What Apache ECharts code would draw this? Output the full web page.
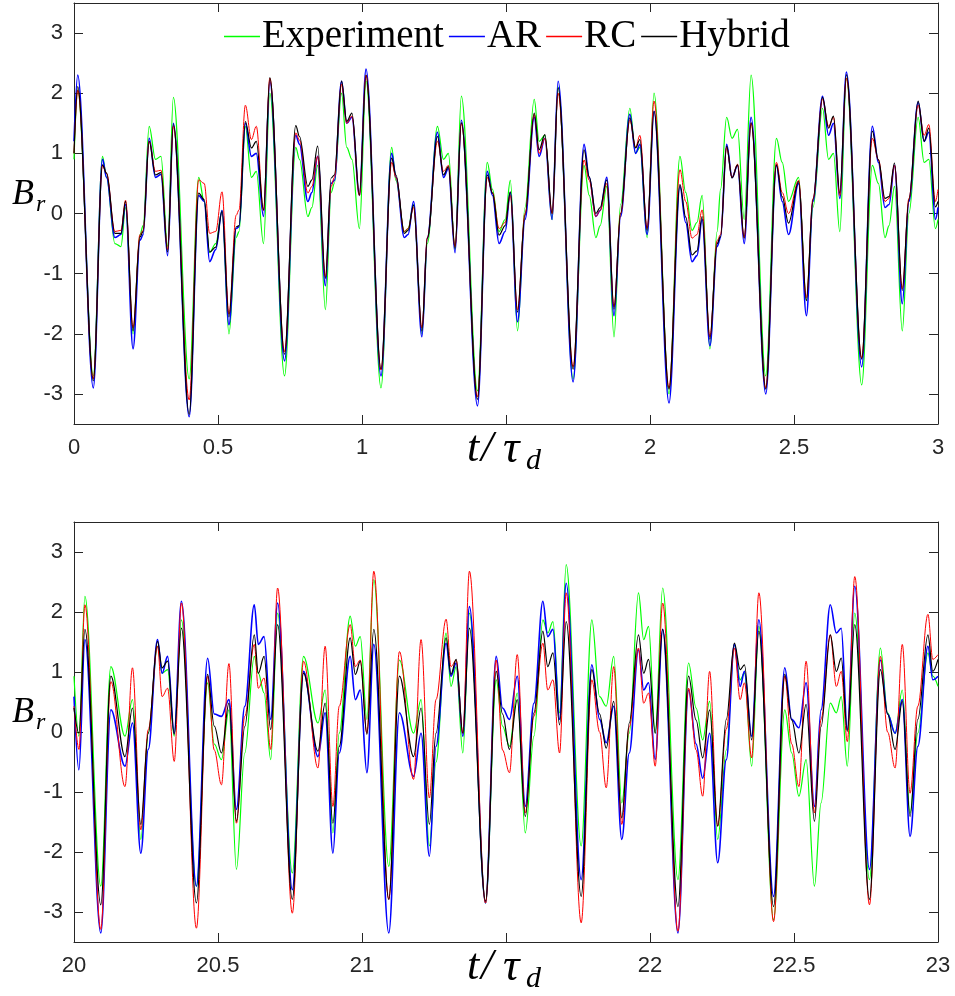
<!DOCTYPE html>
<html>
<head>
<meta charset="utf-8">
<title>Br time series</title>
<script src="https://cdn.jsdelivr.net/npm/echarts@6/dist/echarts.min.js"></script>
<style>
  html, body { margin: 0; padding: 0; background: #ffffff; }
  #chart { width: 955px; height: 996px; }
</style>
</head>
<body>
<div id="chart"></div>
<script>
// ---- Window 1: t/tau_d in [0, 3] ----
const topTime = [0.000, 0.013, 0.067, 0.099, 0.113, 0.142, 0.163, 0.179, 0.205, 0.229,
  0.240, 0.261, 0.283, 0.302, 0.325, 0.345, 0.400, 0.433, 0.452, 0.471,
  0.492, 0.514, 0.538, 0.563, 0.573, 0.595, 0.616, 0.633, 0.658, 0.680,
  0.731, 0.770, 0.783, 0.812, 0.826, 0.846, 0.873, 0.893, 0.904, 0.929,
  0.947, 0.965, 0.991, 1.014, 1.066, 1.103, 1.118, 1.147, 1.160, 1.179,
  1.208, 1.227, 1.262, 1.283, 1.300, 1.323, 1.345, 1.401, 1.435, 1.453,
  1.476, 1.497, 1.515, 1.540, 1.566, 1.598, 1.615, 1.635, 1.660, 1.681,
  1.733, 1.771, 1.789, 1.812, 1.827, 1.850, 1.875, 1.898, 1.930, 1.950,
  1.965, 1.990, 2.014, 2.066, 2.104, 2.124, 2.146, 2.163, 2.181, 2.208,
  2.233, 2.245, 2.266, 2.285, 2.304, 2.327, 2.351, 2.402, 2.439, 2.459,
  2.481, 2.516, 2.543, 2.566, 2.599, 2.620, 2.637, 2.659, 2.682, 2.735,
  2.772, 2.793, 2.816, 2.830, 2.849, 2.876, 2.899, 2.931, 2.952, 2.968,
  2.991, 3.000];
const topHybrid = [1.00, 2.11, -2.78, 0.81, 0.67, -0.33, -0.33, 0.20, -1.95, -0.39,
  -0.30, 1.20, 0.64, 0.68, -0.64, 1.48, -3.34, 0.34, 0.23, -0.64,
  -0.56, 0.03, -1.72, -0.22, -0.20, 1.53, 1.09, 1.20, 0.06, 2.26,
  -2.34, 1.46, 1.28, 0.45, 0.56, 1.12, -1.08, 0.59, 0.64, 2.20,
  1.53, 1.67, 0.31, 2.30, -2.59, 0.92, 0.64, -0.33, -0.28, 0.14,
  -1.95, -0.41, 1.28, 0.64, 0.78, -0.58, 1.51, -3.09, 0.64, 0.34,
  -0.36, -0.20, 0.36, -1.64, -0.03, 1.67, 1.06, 1.31, 0.00, 2.09,
  -2.59, 1.06, 0.61, 0.00, 0.10, 0.56, -1.59, 0.00, 1.59, 1.09,
  1.23, -0.28, 1.70, -2.92, 0.48, -0.06, -0.69, -0.62, -0.05, -2.09,
  -0.50, -0.38, 1.12, 0.59, 0.81, -0.41, 1.51, -2.92, 0.81, 0.28,
  -0.16, 0.53, -1.45, 0.23, 1.93, 1.42, 1.62, 0.34, 2.31, -2.42,
  1.37, 0.89, 0.25, 0.28, 0.84, -1.28, 0.23, 1.87, 1.20, 1.42,
  0.11, 0.20];
const topAR = [1.20, 2.30, -2.90, 0.90, 0.60, -0.40, -0.35, 0.15, -2.25, -0.45,
  -0.35, 1.25, 0.60, 0.65, -0.70, 1.50, -3.38, 0.30, 0.20, -0.80,
  -0.60, 0.05, -1.85, -0.25, -0.22, 1.50, 0.95, 1.00, -0.05, 2.20,
  -2.45, 1.30, 1.15, 0.20, 0.35, 0.95, -1.20, 0.50, 0.55, 2.20,
  1.50, 1.60, 0.30, 2.40, -2.70, 1.00, 0.60, -0.40, -0.35, 0.20,
  -2.05, -0.40, 1.35, 0.60, 0.75, -0.65, 1.55, -3.20, 0.70, 0.30,
  -0.50, -0.30, 0.35, -1.80, -0.10, 1.60, 0.95, 1.25, -0.10, 2.20,
  -2.80, 1.15, 0.60, -0.05, 0.05, 0.60, -1.70, -0.05, 1.65, 1.00,
  1.15, -0.35, 1.70, -3.15, 0.45, -0.15, -0.80, -0.70, -0.10, -2.20,
  -0.55, -0.40, 1.15, 0.60, 0.80, -0.50, 1.60, -3.00, 0.80, 0.20,
  -0.35, 0.50, -1.70, 0.20, 1.95, 1.30, 1.50, 0.25, 2.35, -2.55,
  1.45, 0.85, 0.10, 0.15, 0.80, -1.50, 0.20, 1.85, 1.20, 1.35,
  -0.10, 0.10];
const topRC = [1.00, 2.05, -2.75, 0.80, 0.67, -0.30, -0.28, 0.22, -1.90, -0.35,
  -0.28, 1.20, 0.70, 0.72, -0.60, 1.45, -3.10, 0.56, 0.50, -0.33,
  -0.30, 0.36, -1.67, -0.03, 0.06, 1.80, 1.23, 1.45, 0.05, 2.25,
  -2.30, 1.34, 1.22, 0.34, 0.45, 0.95, -1.05, 0.45, 0.60, 2.15,
  1.50, 1.62, 0.30, 2.30, -2.60, 0.85, 0.60, -0.30, -0.25, 0.10,
  -1.90, -0.40, 1.20, 0.70, 0.80, -0.55, 1.50, -3.05, 0.60, 0.35,
  -0.25, -0.15, 0.30, -1.60, 0.00, 1.65, 1.00, 1.25, 0.00, 2.00,
  -2.55, 0.89, 0.55, -0.05, 0.05, 0.50, -1.55, 0.00, 1.55, 1.10,
  1.30, -0.25, 1.87, -2.90, 0.73, 0.20, -0.41, -0.35, 0.06, -2.05,
  -0.45, -0.35, 1.10, 0.60, 0.82, -0.40, 1.50, -2.90, 0.85, 0.35,
  0.00, 0.55, -1.40, 0.25, 1.90, 1.45, 1.60, 0.30, 2.25, -2.40,
  1.25, 0.90, 0.20, 0.25, 0.80, -1.25, 0.25, 1.80, 1.30, 1.48,
  0.20, 0.40];
const topExperiment = [0.90, 2.05, -2.70, 0.95, 0.60, -0.50, -0.55, 0.10, -2.00, -0.35,
  -0.20, 1.45, 0.90, 0.95, -0.55, 1.93, -2.75, 0.60, 0.20, -0.65,
  -0.50, 0.05, -2.00, -0.40, -0.30, 1.45, 0.60, 0.70, -0.50, 2.00,
  -2.70, 1.10, 0.90, -0.05, 0.10, 0.80, -1.60, 0.35, 0.50, 2.00,
  1.10, 0.90, -0.25, 2.20, -2.90, 1.10, 0.55, -0.30, -0.25, 0.15,
  -2.00, -0.50, 1.45, 0.90, 1.00, -0.60, 1.95, -2.95, 0.85, 0.40,
  -0.30, -0.10, 0.55, -1.95, 0.10, 1.90, 1.20, 1.30, -0.10, 2.10,
  -2.75, 0.80, 0.30, -0.40, -0.20, 0.45, -2.05, 0.15, 1.75, 1.00,
  1.10, -0.40, 2.00, -3.00, 0.95, 0.35, -0.28, -0.15, 0.30, -2.25,
  -0.30, 0.40, 1.60, 1.25, 1.40, -0.10, 2.30, -2.70, 1.25, 0.85,
  0.20, 0.60, -1.45, 0.10, 1.75, 0.90, 1.00, -0.30, 2.25, -2.85,
  0.80, 0.50, -0.40, -0.20, 0.45, -1.95, 0.00, 1.60, 0.85, 0.90,
  -0.25, -0.10];

// ---- Window 2: t/tau_d in [20, 23] ----
const bottomTime = [20.000, 20.017, 20.038, 20.093, 20.128, 20.177, 20.203, 20.232, 20.258, 20.290,
  20.306, 20.325, 20.348, 20.373, 20.425, 20.464, 20.487, 20.512, 20.538, 20.564,
  20.593, 20.626, 20.640, 20.660, 20.683, 20.707, 20.758, 20.797, 20.847, 20.872,
  20.899, 20.921, 20.959, 20.977, 20.994, 21.017, 21.041, 21.093, 21.130, 21.179,
  21.205, 21.234, 21.257, 21.292, 21.309, 21.327, 21.350, 21.373, 21.429, 21.466,
  21.488, 21.512, 21.539, 21.567, 21.597, 21.628, 21.645, 21.663, 21.686, 21.709,
  21.761, 21.798, 21.825, 21.848, 21.874, 21.902, 21.928, 21.960, 21.978, 21.995,
  22.018, 22.044, 22.097, 22.134, 22.160, 22.183, 22.207, 22.235, 22.265, 22.293,
  22.313, 22.328, 22.353, 22.378, 22.429, 22.468, 22.492, 22.517, 22.542, 22.571,
  22.594, 22.626, 22.647, 22.664, 22.685, 22.711, 22.762, 22.800, 22.825, 22.851,
  22.876, 22.903, 22.930, 22.965, 22.982, 23.000];
const bottomHybrid = [0.40, -0.02, 1.71, -2.88, 0.93, -0.41, 0.40, -1.54, -0.02, 1.51,
  1.07, 1.18, -0.04, 1.73, -2.85, 0.96, 0.10, -0.35, 0.48, -1.49,
  0.09, 1.62, 0.98, 1.26, 0.04, 1.79, -2.79, 0.98, -0.32, 0.48,
  -1.52, -0.24, 1.57, 0.96, 1.18, -0.04, 1.71, -2.79, 0.93, -0.41,
  0.40, -1.54, -0.02, 1.57, 0.96, 1.21, -0.02, 1.73, -2.82, 1.01,
  0.30, -0.29, 0.54, -1.41, 0.32, 1.68, 1.09, 1.32, 0.12, 1.84,
  -2.74, 1.04, 0.30, -0.27, 0.51, -1.43, 0.15, 1.62, 0.98, 1.21,
  -0.02, 1.71, -2.91, 0.93, 0.20, -0.43, 0.37, -1.57, 0.21, 1.48,
  1.04, 1.12, -0.13, 1.68, -2.91, 0.96, 0.20, -0.35, 0.46, -1.49,
  0.09, 1.62, 1.01, 1.23, 0.01, 1.79, -2.79, 1.04, 0.30, -0.29,
  0.51, -1.41, 0.21, 1.62, 1.01, 1.21];
const bottomAR = [0.59, -0.63, 1.54, -3.35, 0.37, -0.57, 0.15, -2.02, -0.29, 1.54,
  0.98, 1.26, -0.02, 2.18, -2.57, 1.23, 0.30, 0.26, 0.54, -1.29,
  0.43, 2.12, 1.46, 1.59, 0.21, 2.15, -2.63, 1.01, -0.41, 0.32,
  -2.02, -0.35, 1.26, 0.54, 0.70, -0.68, 1.46, -3.35, 0.32, -0.74,
  -0.02, -2.07, -0.24, 1.48, 0.93, 1.15, -0.07, 2.09, -2.85, 1.26,
  0.40, 0.21, 0.93, -1.24, 0.48, 2.18, 1.59, 1.71, 0.21, 2.48,
  -2.46, 1.12, 0.21, -0.18, 0.43, -1.79, -0.35, 1.37, 0.70, 0.82,
  -0.46, 1.71, -3.35, 0.70, -0.20, -0.77, -0.02, -2.18, -0.46, 1.46,
  0.76, 1.01, -0.07, 1.87, -2.74, 1.07, 0.21, 0.07, 0.82, -1.24,
  0.37, 2.12, 1.65, 1.73, 0.04, 2.43, -2.29, 1.20, 0.30, -0.02,
  0.54, -1.74, -0.24, 1.43, 0.87, 0.93];
const bottomRC = [0.43, -0.29, 2.12, -3.29, 0.84, -0.91, 1.07, -1.63, 0.04, 1.43,
  0.59, 0.73, -0.49, 2.15, -3.27, 0.93, -0.30, -0.88, 1.14, -1.52,
  0.26, 1.46, 0.73, 0.90, -0.29, 2.40, -3.02, 1.18, -0.60, 1.43,
  -1.24, 0.43, 1.79, 1.09, 1.20, -0.02, 2.68, -2.79, 1.34, -0.79,
  1.54, -1.10, 0.54, 1.88, 1.09, 1.20, -0.02, 2.68, -2.85, 1.20,
  -0.30, -0.68, 1.29, -1.35, 0.26, 1.48, 0.70, 0.87, -0.35, 2.32,
  -3.18, 0.87, 0.00, -0.93, 1.09, -1.54, 0.09, 1.40, 0.48, 0.65,
  -0.57, 2.15, -3.32, 0.73, -0.30, -1.07, 1.01, -1.57, 0.05, 1.40,
  0.54, 0.82, -0.43, 2.32, -3.16, 0.93, -0.20, -0.91, 1.18, -1.35,
  0.21, 1.62, 0.76, 1.01, -0.16, 2.59, -2.88, 1.26, 0.00, -0.60,
  1.46, -1.02, 0.43, 1.96, 1.21, 1.29];
const bottomExperiment = [0.93, -0.07, 2.26, -2.57, 1.09, -0.07, 0.54, -1.79, -0.02, 1.43,
  0.98, 1.04, -0.07, 1.87, -2.57, 0.82, -0.20, -0.46, 0.37, -2.29,
  -0.35, 1.26, 0.98, 0.65, -0.46, 1.98, -2.35, 1.26, 0.15, 0.70,
  -1.68, -0.02, 1.93, 1.43, 1.59, 0.21, 2.54, -2.24, 1.20, -0.02,
  0.54, -1.90, -0.50, 1.65, 0.76, 1.09, -0.35, 1.98, -2.85, 0.87,
  0.10, -0.24, 0.65, -1.68, -0.07, 1.87, 1.65, 1.84, 0.32, 2.79,
  -1.90, 1.87, 0.59, 0.43, 1.26, -1.18, -0.02, 2.32, 1.54, 1.76,
  -0.02, 2.40, -2.46, 1.15, 0.40, -0.13, 0.51, -1.79, -0.30, 1.46,
  0.87, 0.98, -0.57, 1.76, -3.13, 0.37, -0.35, -1.07, -0.46, -2.57,
  -1.18, 0.48, 0.32, 0.59, -0.57, 1.98, -2.46, 1.40, 0.32, -0.02,
  0.70, -1.35, -0.02, 1.32, 0.93, 0.76];

const seriesNames = ['Experiment', 'AR', 'RC', 'Hybrid'];
const seriesColors = ['#00ff00', '#0000ff', '#ff0000', '#000000'];
const seriesWidths = [1.2, 1.6, 1, 1.2];
const yTicks = [-3, -2, -1, 0, 1, 2, 3];
// the x-axis title sits where the middle tick label would be
const topXLabels = [0, 0.5, 1, 2, 2.5, 3];
const bottomXLabels = [20, 20.5, 21, 22, 22.5, 23];

const axisColor = '#262626';
const tickFont = 'Liberation Sans, Arial, Helvetica, sans-serif';
const mathFont = 'Liberation Serif, Times New Roman, serif';

function pairs(time, values) {
  return time.map((t, i) => [t, values[i]]);
}

function xAxes(gridIndex, min, max, labels) {
  const base = {
    gridIndex, type: 'value', min, max, interval: 0.5,
    axisLine: { show: true, onZero: false, lineStyle: { color: axisColor, width: 1 } },
    axisTick: { show: true, inside: true, length: 9, lineStyle: { color: axisColor } },
    splitLine: { show: false }
  };
  return [
    Object.assign({}, base, {
      position: 'bottom',
      axisLabel: { show: true, customValues: labels, fontSize: 22, color: axisColor, fontFamily: tickFont, margin: 13 }
    }),
    Object.assign({}, base, { position: 'top', axisLabel: { show: false } })
  ];
}

function yAxes(gridIndex) {
  const base = {
    gridIndex, type: 'value', min: -3.5, max: 3.5,
    axisLine: { show: true, onZero: false, lineStyle: { color: axisColor, width: 1 } },
    axisTick: { show: true, inside: true, length: 9, customValues: yTicks, lineStyle: { color: axisColor } },
    splitLine: { show: false }
  };
  return [
    Object.assign({}, base, {
      position: 'left',
      axisLabel: { show: true, customValues: yTicks, fontSize: 22, color: axisColor, fontFamily: tickFont, margin: 11 }
    }),
    Object.assign({}, base, { position: 'right', axisLabel: { show: false } })
  ];
}

function panelSeries(time, valueSets, axisIndex) {
  return valueSets.map((vals, k) => ({
    name: seriesNames[k],
    type: 'line',
    xAxisIndex: axisIndex,
    yAxisIndex: axisIndex,
    data: pairs(time, vals),
    symbol: 'none',
    showSymbol: false,
    smooth: 0.35,
    smoothMonotone: 'x',
    z: 2 + k,
    lineStyle: { color: seriesColors[k], width: seriesWidths[k] },
    itemStyle: { color: seriesColors[k] }
  }));
}

// "t/τ_d" under each panel and "B_r" to the left of it
function axisTitles(dy) {
  const glyph = (text, left, top, size) => ({
    type: 'text', left, top: top + dy,
    style: { text, font: 'italic ' + size + 'px ' + mathFont, fill: '#000' }
  });
  return [
    glyph('t', 467, 427, 44),
    glyph('/', 481, 427, 44),
    glyph('τ', 503, 427, 46),
    glyph('d', 526, 446, 30),
    glyph('B', 12, 177, 36),
    glyph('r', 36, 193, 24)
  ];
}

const chart = echarts.init(document.getElementById('chart'), null, { renderer: 'canvas' });

chart.setOption({
  animation: false,
  backgroundColor: '#ffffff',
  grid: [
    { left: 74, right: 17, top: 3, height: 421 },
    { left: 74, right: 17, top: 522, height: 420 }
  ],
  xAxis: [...xAxes(0, 0, 3, topXLabels), ...xAxes(1, 20, 23, bottomXLabels)],
  yAxis: [...yAxes(0), ...yAxes(1)],
  legend: {
    data: seriesNames,
    icon: 'rect',
    left: 219,
    top: 12,
    itemWidth: 36,
    itemHeight: 1.3,
    itemGap: 5,
    textStyle: { fontFamily: mathFont, fontSize: 39, color: '#000', padding: [0, 0, 0, -3] }
  },
  series: [
    ...panelSeries(topTime, [topExperiment, topAR, topRC, topHybrid], 0),
    ...panelSeries(bottomTime, [bottomExperiment, bottomAR, bottomRC, bottomHybrid], 2)
  ],
  graphic: [...axisTitles(0), ...axisTitles(518)]
});
</script>
</body>
</html>
